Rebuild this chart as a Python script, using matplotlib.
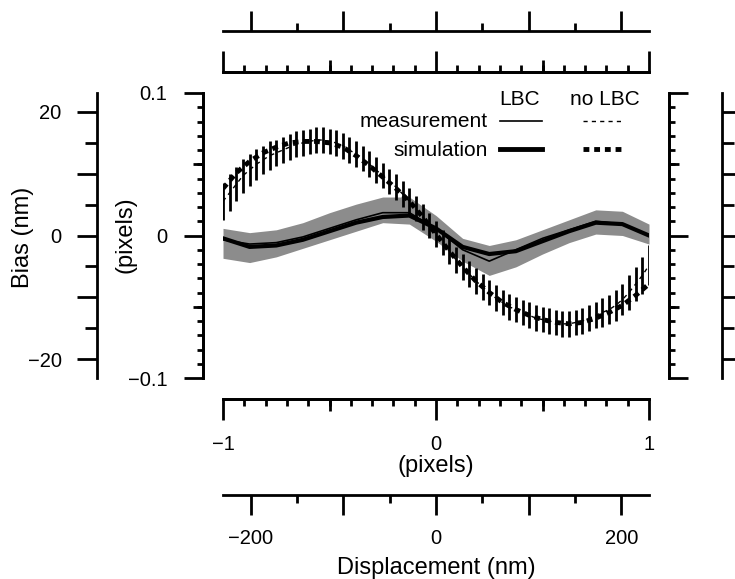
import numpy as np
import matplotlib
matplotlib.use('Agg')
import matplotlib.pyplot as plt
from matplotlib.ticker import FixedLocator, MultipleLocator, FuncFormatter

plt.rcParams['font.family'] = ['Liberation Sans', 'DejaVu Sans']

NM_PER_PIXEL = 230  # displacement / bias conversion

# LBC: measurement (thin), +/- band (grey), simulation (thick), every 1/8 pixel
lbc_x = np.linspace(-1, 1, 17)
lbc_meas = [-0.003, -0.006, -0.005, -0.001, 0.005, 0.011, 0.016, 0.016, 0.005,
            -0.010, -0.018, -0.010, -0.002, 0.004, 0.010, 0.008, 0.000]
lbc_upper = [0.005, 0.002, 0.004, 0.009, 0.016, 0.022, 0.027, 0.027, 0.014,
             -0.002, -0.007, -0.003, 0.004, 0.011, 0.018, 0.017, 0.008]
lbc_lower = [-0.016, -0.019, -0.015, -0.009, -0.003, 0.003, 0.009, 0.008, -0.004,
             -0.018, -0.028, -0.022, -0.013, -0.005, 0.001, 0.000, -0.006]
lbc_sim = [-0.002, -0.008, -0.007, -0.003, 0.003, 0.009, 0.013, 0.014, 0.005,
           -0.008, -0.013, -0.011, -0.004, 0.003, 0.009, 0.008, 0.000]

# no LBC: measurement with error bars, every 1/32 pixel
scan_x = np.linspace(-1, 1, 65)
nolbc_meas = [0.024, 0.030, 0.036, 0.042, 0.046, 0.050, 0.053, 0.056,
              0.058, 0.060, 0.062, 0.064, 0.065, 0.066, 0.067, 0.067,
              0.066, 0.065, 0.063, 0.060, 0.057, 0.054, 0.050, 0.046,
              0.042, 0.038, 0.034, 0.029, 0.024, 0.019, 0.013, 0.007,
              0.001,
              -0.005, -0.011, -0.017, -0.022, -0.027, -0.032, -0.036, -0.040,
              -0.044, -0.047, -0.050, -0.052, -0.054, -0.056, -0.058, -0.059,
              -0.060, -0.061, -0.062, -0.062, -0.061, -0.060, -0.058, -0.056,
              -0.054, -0.052, -0.049, -0.045, -0.040, -0.034, -0.028, -0.021]
nolbc_err = [0.013, 0.013, 0.012, 0.012, 0.011, 0.011, 0.010, 0.010,
             0.009, 0.009, 0.009, 0.009, 0.009, 0.009, 0.009, 0.009,
             0.009, 0.009, 0.009, 0.009, 0.009, 0.009, 0.009, 0.009,
             0.009, 0.009, 0.009, 0.009, 0.009, 0.009, 0.009, 0.009,
             0.009,
             0.009, 0.009, 0.009, 0.009, 0.009, 0.009, 0.009, 0.009,
             0.009, 0.009, 0.009, 0.009, 0.009, 0.009, 0.009, 0.009,
             0.009, 0.009, 0.009, 0.009, 0.009, 0.009, 0.009, 0.009,
             0.010, 0.010, 0.011, 0.011, 0.012, 0.012, 0.013, 0.014]

# no LBC: simulation, every 1/16 pixel
sim_x = np.linspace(-1, 1, 33)
nolbc_sim = [0.033, 0.044, 0.052, 0.058, 0.062, 0.065, 0.066, 0.066, 0.065,
             0.062, 0.056, 0.049, 0.041, 0.033, 0.024, 0.013, 0.001,
             -0.011, -0.022, -0.032, -0.040, -0.047, -0.052, -0.056, -0.059,
             -0.061, -0.062, -0.061, -0.058, -0.054, -0.049, -0.042, -0.034]

W, H = 735, 579
fig = plt.figure(figsize=(W / 100, H / 100), dpi=100)
pos = [223 / W, 1 - 378 / H, 426 / W, 285 / H]


def detached(a, offsets):
    # offsets in pixels, spines pushed away from the data area
    a.patch.set_visible(False)
    for side, off in offsets.items():
        sp = a.spines[side]
        sp.set_position(('outward', off * 0.72))
        sp.set_linewidth(2)
        sp.set_capstyle('projecting')
    a.tick_params(which='both', direction='out', width=2, top=True, right=True,
                  labeltop=False, labelright=False, labelsize=14.5, colors='k')


fmt = FuncFormatter(lambda v, p: ('%g' % v).replace('-', '\u2212'))

# nm axes (outer)
ax_nm = fig.add_axes(pos, label='nm')
ax_nm.set_xlim(-NM_PER_PIXEL, NM_PER_PIXEL)
ax_nm.set_ylim(-NM_PER_PIXEL / 10, NM_PER_PIXEL / 10)
detached(ax_nm, {'left': 126, 'right': 73, 'top': 62, 'bottom': 117})
ax_nm.xaxis.set_major_locator(MultipleLocator(100))
ax_nm.xaxis.set_minor_locator(MultipleLocator(50))
ax_nm.yaxis.set_major_locator(MultipleLocator(10))
ax_nm.yaxis.set_minor_locator(MultipleLocator(5))
ax_nm.xaxis.set_major_formatter(FuncFormatter(
    lambda v, p: '' if abs(v) == 100 else ('%g' % v).replace('-', '\u2212')))
ax_nm.yaxis.set_major_formatter(FuncFormatter(
    lambda v, p: '' if abs(v) == 10 else ('%g' % v).replace('-', '\u2212')))
ax_nm.tick_params(axis='x', which='major', length=14.4, pad=10)
ax_nm.tick_params(axis='x', which='minor', length=5.8)
ax_nm.tick_params(axis='y', which='major', length=14.4, pad=11)
ax_nm.tick_params(axis='y', which='minor', length=8.6)

# medium ticks of the pixel axes
ax_mid = fig.add_axes(pos, label='mid')
ax_mid.set_xlim(-1, 1)
ax_mid.set_ylim(-0.1, 0.1)
detached(ax_mid, {'left': 20, 'right': 20, 'top': 21, 'bottom': 21})
ax_mid.xaxis.set_major_locator(FixedLocator([-0.5, 0.5]))
ax_mid.yaxis.set_major_locator(FixedLocator([-0.05, 0.05]))
ax_mid.tick_params(which='major', labelbottom=False, labelleft=False)
ax_mid.tick_params(axis='x', which='major', length=8.6)
ax_mid.tick_params(axis='y', which='major', length=7.5)

# main data axes (pixel units)
ax = fig.add_axes(pos, label='main')
ax.set_xlim(-1, 1)
ax.set_ylim(-0.1, 0.1)
detached(ax, {'left': 20, 'right': 20, 'top': 21, 'bottom': 21})
ax.xaxis.set_major_locator(FixedLocator([-1, 0, 1]))
ax.xaxis.set_minor_locator(MultipleLocator(0.1))
ax.yaxis.set_major_locator(FixedLocator([-0.1, 0, 0.1]))
ax.yaxis.set_minor_locator(MultipleLocator(0.01))
ax.xaxis.set_major_formatter(fmt)
ax.yaxis.set_major_formatter(fmt)
ax.tick_params(axis='x', which='major', length=15, pad=11)
ax.tick_params(axis='x', which='minor', length=4.7)
ax.tick_params(axis='y', which='major', length=14, pad=11.5)
ax.tick_params(axis='y', which='minor', length=4.3)

# data
ax.fill_between(lbc_x, lbc_lower, lbc_upper, color='#8c8c8c', lw=0, zorder=1)
ax.errorbar(scan_x, nolbc_meas, yerr=nolbc_err, fmt='none', ecolor='k',
            elinewidth=2, capsize=0, zorder=2)
ax.plot(scan_x, nolbc_meas, color='k', lw=1, ls=(0, (3, 3)), zorder=2)
ax.plot(lbc_x, lbc_meas, color='k', lw=1.2, zorder=3)
ax.plot(lbc_x, lbc_sim, color='k', lw=3, zorder=3)
ax.plot(sim_x, nolbc_sim, color='k', lw=3.5, ls=(0, (1.2, 1.0)), zorder=4)

# legend table
tr = ax.transAxes
ax.text(0.697, 0.958, 'LBC', ha='center', va='baseline', fontsize=15, transform=tr)
ax.text(0.897, 0.958, 'no LBC', ha='center', va='baseline', fontsize=15, transform=tr)
ax.text(0.622, 0.881, 'measurement', ha='right', va='baseline', fontsize=15, transform=tr)
ax.text(0.622, 0.779, 'simulation', ha='right', va='baseline', fontsize=15, transform=tr)
ax.plot([0.650, 0.749], [0.903, 0.903], color='k', lw=1.2, transform=tr)
ax.plot([0.845, 0.937], [0.903, 0.903], color='k', lw=1, ls=(0, (3, 3)), transform=tr)
ax.plot([0.650, 0.749], [0.804, 0.804], color='k', lw=3.5, transform=tr)
ax.plot([0.845, 0.937], [0.804, 0.804], color='k', lw=3.5, ls=(0, (1.2, 1.0)), transform=tr)

# axis titles
fig.text(23 / W, 1 - 237 / H, 'Bias (nm)', rotation=90, ha='center', va='center', fontsize=17)
fig.text(125 / W, 1 - 235 / H, '(pixels)', rotation=90, ha='center', va='center', fontsize=17)
fig.text(436 / W, 1 - 466 / H, '(pixels)', ha='center', va='center', fontsize=17)
fig.text(436 / W, 1 - 568 / H, 'Displacement (nm)', ha='center', va='center', fontsize=17)

fig.savefig('out.png', dpi=100)
